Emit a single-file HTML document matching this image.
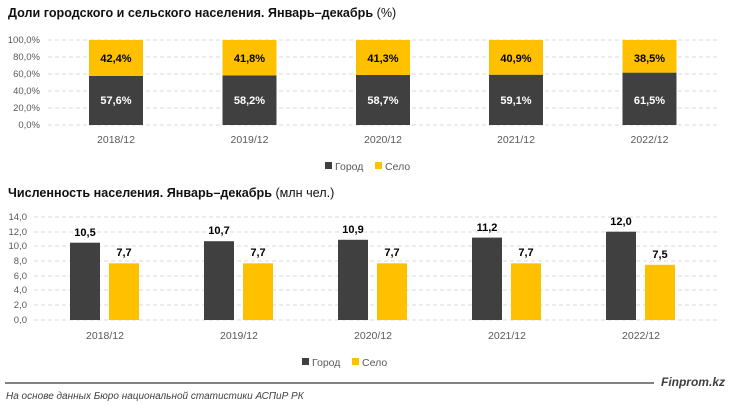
<!DOCTYPE html>
<html><head><meta charset="utf-8"><style>
body{margin:0;background:#fff}
svg{display:block;font-family:"Liberation Sans",sans-serif}
</style></head><body>
<svg width="731" height="406" viewBox="0 0 731 406" xmlns="http://www.w3.org/2000/svg">
<text x="8" y="17" font-size="12.6" font-weight="bold" fill="#111">Доли городского и сельского населения. Январь–декабрь <tspan font-weight="normal">(%)</tspan></text>
<g stroke="#d9d9d9" stroke-dasharray="4,3">
<line x1="48" x2="720" y1="40" y2="40"/><line x1="48" x2="720" y1="57" y2="57"/><line x1="48" x2="720" y1="74" y2="74"/><line x1="48" x2="720" y1="91" y2="91"/><line x1="48" x2="720" y1="108" y2="108"/><line x1="48" x2="720" y1="125" y2="125"/>
</g>
<g font-size="9.5" fill="#595959" text-anchor="end">
<text x="40" y="43">100,0%</text><text x="40" y="60">80,0%</text><text x="40" y="77">60,0%</text><text x="40" y="94">40,0%</text><text x="40" y="111">20,0%</text><text x="40" y="128">0,0%</text>
</g>
<g font-size="11" text-anchor="middle" font-weight="bold">
<rect x="89" y="40" width="54" height="36" fill="#ffc000"/><rect x="89" y="76" width="54" height="49" fill="#404040"/>
<text x="116" y="62" fill="#000">42,4%</text><text x="116" y="104" fill="#fff">57,6%</text>
<rect x="222.5" y="40" width="54" height="35.5" fill="#ffc000"/><rect x="222.5" y="75.5" width="54" height="49.5" fill="#404040"/>
<text x="249.5" y="62" fill="#000">41,8%</text><text x="249.5" y="104" fill="#fff">58,2%</text>
<rect x="356" y="40" width="54" height="35" fill="#ffc000"/><rect x="356" y="75" width="54" height="50" fill="#404040"/>
<text x="383" y="62" fill="#000">41,3%</text><text x="383" y="104" fill="#fff">58,7%</text>
<rect x="489" y="40" width="54" height="34.8" fill="#ffc000"/><rect x="489" y="74.8" width="54" height="50.2" fill="#404040"/>
<text x="516" y="62" fill="#000">40,9%</text><text x="516" y="104" fill="#fff">59,1%</text>
<rect x="622.5" y="40" width="54" height="32.7" fill="#ffc000"/><rect x="622.5" y="72.7" width="54" height="52.3" fill="#404040"/>
<text x="649.5" y="62" fill="#000">38,5%</text><text x="649.5" y="104" fill="#fff">61,5%</text>
</g>
<g font-size="10.5" fill="#595959" text-anchor="middle">
<text x="116" y="143">2018/12</text><text x="249.5" y="143">2019/12</text><text x="383" y="143">2020/12</text><text x="516" y="143">2021/12</text><text x="649.5" y="143">2022/12</text>
</g>
<rect x="325" y="162" width="7" height="7" fill="#404040"/><text x="335" y="170" font-size="10.5" fill="#595959">Город</text>
<rect x="375" y="162" width="7" height="7" fill="#ffc000"/><text x="385" y="170" font-size="10.5" fill="#595959">Село</text>

<text x="8" y="197" font-size="12.6" font-weight="bold" fill="#111">Численность населения. Январь–декабрь <tspan font-weight="normal">(млн чел.)</tspan></text>
<g stroke="#d9d9d9" stroke-dasharray="4,3">
<line x1="34" x2="720" y1="217" y2="217"/><line x1="34" x2="720" y1="232" y2="232"/><line x1="34" x2="720" y1="246" y2="246"/><line x1="34" x2="720" y1="261" y2="261"/><line x1="34" x2="720" y1="276" y2="276"/><line x1="34" x2="720" y1="290" y2="290"/><line x1="34" x2="720" y1="305" y2="305"/><line x1="34" x2="720" y1="320" y2="320"/>
</g>
<g font-size="9.5" fill="#595959" text-anchor="end">
<text x="27" y="220">14,0</text><text x="27" y="235">12,0</text><text x="27" y="249">10,0</text><text x="27" y="264">8,0</text><text x="27" y="279">6,0</text><text x="27" y="293">4,0</text><text x="27" y="308">2,0</text><text x="27" y="323">0,0</text>
</g>
<g font-size="11" font-weight="bold" text-anchor="middle" fill="#000">
<rect x="70" y="242.7" width="30" height="77.3" fill="#404040"/><rect x="109" y="263.3" width="30" height="56.7" fill="#ffc000"/>
<text x="85" y="236">10,5</text><text x="124" y="256">7,7</text>
<rect x="204" y="241.2" width="30" height="78.8" fill="#404040"/><rect x="243" y="263.3" width="30" height="56.7" fill="#ffc000"/>
<text x="219" y="234">10,7</text><text x="258" y="256">7,7</text>
<rect x="338" y="239.8" width="30" height="80.2" fill="#404040"/><rect x="377" y="263.3" width="30" height="56.7" fill="#ffc000"/>
<text x="353" y="233">10,9</text><text x="392" y="256">7,7</text>
<rect x="472" y="237.6" width="30" height="82.4" fill="#404040"/><rect x="511" y="263.3" width="30" height="56.7" fill="#ffc000"/>
<text x="487" y="231">11,2</text><text x="526" y="256">7,7</text>
<rect x="606" y="231.7" width="30" height="88.3" fill="#404040"/><rect x="645" y="264.8" width="30" height="55.2" fill="#ffc000"/>
<text x="621" y="225">12,0</text><text x="660" y="258">7,5</text>
</g>
<g font-size="10.5" fill="#595959" text-anchor="middle">
<text x="105" y="339">2018/12</text><text x="239" y="339">2019/12</text><text x="373" y="339">2020/12</text><text x="507" y="339">2021/12</text><text x="641" y="339">2022/12</text>
</g>
<rect x="302" y="358" width="7" height="7" fill="#404040"/><text x="312" y="366" font-size="10.5" fill="#595959">Город</text>
<rect x="352" y="358" width="7" height="7" fill="#ffc000"/><text x="362" y="366" font-size="10.5" fill="#595959">Село</text>

<line x1="5" x2="654" y1="383" y2="383" stroke="#595959" stroke-width="1.5"/>
<text x="725" y="386" font-size="12" font-weight="bold" font-style="italic" fill="#404040" text-anchor="end">Finprom.kz</text>
<text x="6" y="399" font-size="10" font-style="italic" fill="#404040">На основе данных Бюро национальной статистики АСПиР РК</text>
</svg>
</body></html>
